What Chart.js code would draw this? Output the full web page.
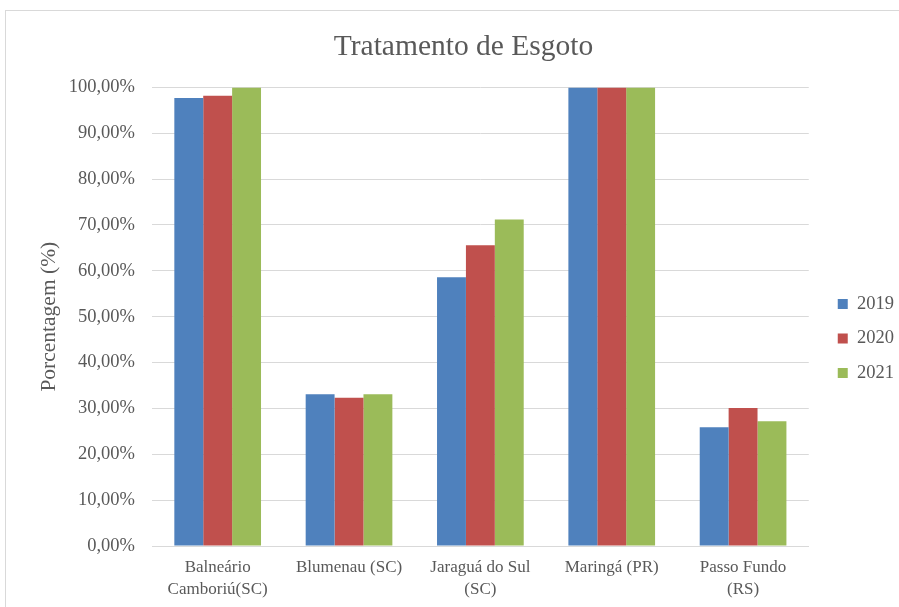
<!DOCTYPE html>
<html><head><meta charset="utf-8">
<script src="https://cdn.jsdelivr.net/npm/chart.js@4/dist/chart.umd.min.js"></script>
<style>
html,body{margin:0;padding:0;background:#fff;}
#frame{position:absolute;left:5px;top:10px;width:900px;height:620px;border:1px solid #d9d9d9;box-sizing:border-box;}
#wrap{position:absolute;left:0;top:0;width:899px;height:607px;}
</style></head><body>
<div id="frame"></div>
<div id="wrap"><canvas id="c" width="899" height="607"></canvas></div>
<script>
const categories = [["Balneário","Camboriú(SC)"],"Blumenau (SC)",["Jaraguá do Sul","(SC)"],"Maringá (PR)",["Passo Fundo","(RS)"]];
const series2019 = [97.7, 33.1, 58.6, 100, 25.9];
const series2020 = [98.2, 32.3, 65.6, 100, 30.1];
const series2021 = [100, 33.1, 71.2, 100, 27.2];
const seriesNames = ["2019","2020","2021"];
const colors = ["#4F81BD","#C0504D","#9BBB59"];
const font = "'Liberation Serif','Times New Roman',serif";

const legendShift = {
  id: 'legendShift',
  afterLayout(chart) {
    const l = chart.legend;
    if (!l) return;
    l.left += 13; l.right += 13;
    l.top += 30; l.bottom += 30;
  }
};

new Chart(document.getElementById('c'), {
  type: 'bar',
  data: {
    labels: categories,
    datasets: [series2019, series2020, series2021].map((d,i)=>({
      label: seriesNames[i], data: d, backgroundColor: colors[i],
      categoryPercentage: 0.66, barPercentage: 1.0
    }))
  },
  plugins: [legendShift],
  options: {
    responsive: false, animation: false,
    layout: {padding: {left: 36, right: 8, top: 10, bottom: 0}},
    plugins: {
      title: {display: true, text: 'Tratamento de Esgoto', color: '#595959',
        font: {family: font, size: 29.5, weight: 'normal', lineHeight: 1.2}, padding: {top: 20, bottom: 22}},
      legend: {position: 'right', align: 'center',
        labels: {boxWidth: 10, boxHeight: 10, padding: 16, color: '#595959',
          font: {family: font, size: 18.5}}},
      tooltip: {enabled: false}
    },
    scales: {
      x: {grid: {display: false, drawTicks: false}, border: {display: true, color: '#d9d9d9'},
        afterFit: s => { s.height = 61; },
        ticks: {color: '#595959', font: {family: font, size: 17, lineHeight: 1.3}, padding: 10, maxRotation: 0, autoSkip: false}},
      y: {min: 0, max: 100, grid: {color: '#d9d9d9', drawTicks: false}, border: {display: false},
        afterFit: s => { s.width = 116; },
        ticks: {stepSize: 10, color: '#595959', padding: 17, font: {family: font, size: 18.5},
          callback: v => v.toFixed(2).replace('.', ',') + '%'},
        title: {display: true, text: 'Porcentagem (%)', color: '#595959', font: {family: font, size: 21.5, lineHeight: 1.2}, padding: 0}}
    }
  }
});
</script>
</body></html>
